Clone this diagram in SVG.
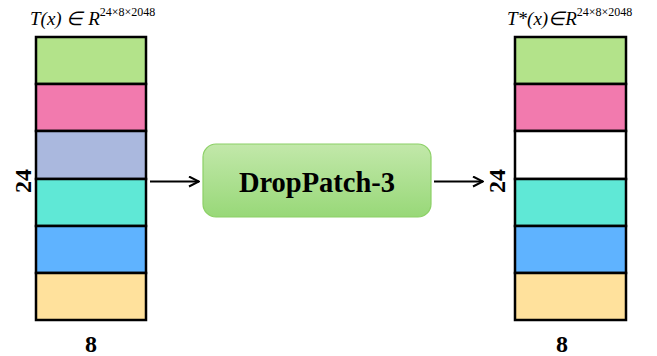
<svg xmlns="http://www.w3.org/2000/svg" width="657" height="356" viewBox="0 0 657 356">
<defs>
<linearGradient id="g" x1="0" y1="0" x2="0" y2="1">
<stop offset="0" stop-color="#C2E8AA"/>
<stop offset="1" stop-color="#98D878"/>
</linearGradient>
<marker id="ah" markerWidth="12" markerHeight="12" refX="11" refY="6" orient="auto" markerUnits="userSpaceOnUse">
<path d="M1,1 L11,6 L1,11" fill="none" stroke="#000" stroke-width="2"/>
</marker>
</defs>
<style>
.c{stroke:#000;stroke-width:2.5}
.l{stroke:#000;stroke-width:2;fill:none}
</style>
<g id="left-stack">
<rect class="c" x="36" y="37" width="110" height="47" fill="#B3E38A"/>
<rect class="c" x="36" y="84" width="110" height="47" fill="#F27AAE"/>
<rect class="c" x="36" y="131" width="110" height="48" fill="#AAB8DE"/>
<rect class="c" x="36" y="179" width="110" height="47" fill="#5FE8D6"/>
<rect class="c" x="36" y="226" width="110" height="47" fill="#5FB3FF"/>
<rect class="c" x="36" y="273" width="110" height="47" fill="#FFE19C"/>
<text font-family="Liberation Serif, serif" x="30" y="25" font-size="19" font-style="italic">T(x) ∈ R<tspan font-size="12" dy="-9" font-style="normal">24×8×2048</tspan></text>
<text font-family="Liberation Serif, serif" font-weight="bold" font-size="24" transform="translate(31,181) rotate(-90)" text-anchor="middle">24</text>
<text font-family="Liberation Serif, serif" font-weight="bold" x="91" y="352" font-size="24" text-anchor="middle">8</text>
</g>
<g id="right-stack">
<rect class="c" x="515" y="37" width="111" height="47" fill="#B3E38A"/>
<rect class="c" x="515" y="84" width="111" height="47" fill="#F27AAE"/>
<rect class="c" x="515" y="131" width="111" height="48" fill="#FFFFFF"/>
<rect class="c" x="515" y="179" width="111" height="47" fill="#5FE8D6"/>
<rect class="c" x="515" y="226" width="111" height="47" fill="#5FB3FF"/>
<rect class="c" x="515" y="273" width="111" height="47" fill="#FFE19C"/>
<text font-family="Liberation Serif, serif" x="507" y="25" font-size="19" font-style="italic">T*(x)∈R<tspan font-size="12" dy="-9" font-style="normal">24×8×2048</tspan></text>
<text font-family="Liberation Serif, serif" font-weight="bold" font-size="24" transform="translate(505,181) rotate(-90)" text-anchor="middle">24</text>
<text font-family="Liberation Serif, serif" font-weight="bold" x="562" y="352" font-size="24" text-anchor="middle">8</text>
</g>
<g id="droppatch">
<rect x="203" y="144" width="228" height="73" rx="13" fill="url(#g)" stroke="#8CD066" stroke-width="1.2"/>
<text font-family="Liberation Serif, serif" font-weight="bold" x="317" y="192" font-size="28.5" text-anchor="middle">DropPatch-3</text>
</g>
<g id="connectors">
<line class="l" x1="150" y1="181.5" x2="199" y2="181.5" marker-end="url(#ah)"/>
<line class="l" x1="434" y1="181.5" x2="483" y2="181.5" marker-end="url(#ah)"/>
</g>
</svg>
